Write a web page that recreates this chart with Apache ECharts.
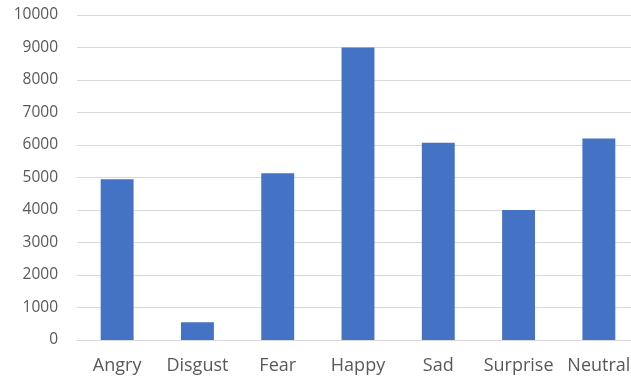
<!DOCTYPE html>
<html>
<head>
<meta charset="utf-8">
<script src="https://cdn.jsdelivr.net/npm/echarts@6/dist/echarts.min.js"></script>
<style>
  html, body { margin: 0; padding: 0; background: #fff; overflow: hidden; }
  #chart { width: 639px; height: 381px; }
</style>
</head>
<body>
<div id="chart"></div>
<script>
const categories = ['Angry', 'Disgust', 'Fear', 'Happy', 'Sad', 'Surprise', 'Neutral']
const counts = [4950, 550, 5130, 9000, 6070, 4000, 6200]
const yTicks = [0, 1000, 2000, 3000, 4000, 5000, 6000, 7000, 8000, 9000, 10000]

// the plot runs a little past the right edge of the window, as in the source image
const chart = echarts.init(document.getElementById('chart'))
chart.setOption({
  backgroundColor: '#ffffff',
  animation: false,
  grid: {
    top: 15,
    left: 77,
    right: 0,
    bottom: 41
  },
  xAxis: {
    type: 'category',
    data: categories,
    axisLine: {
      lineStyle: { color: '#d9d9d9', width: 1 }
    },
    axisTick: { show: false },
    axisLabel: {
      interval: 0,
      margin: 17,
      color: '#595959',
      fontFamily: 'Open Sans',
      fontSize: 18
    }
  },
  yAxis: {
    type: 'value',
    min: yTicks[0],
    max: yTicks[yTicks.length - 1],
    interval: 1000,
    axisLine: { show: false },
    axisTick: { show: false },
    axisLabel: {
      margin: 19,
      color: '#595959',
      fontFamily: 'Open Sans',
      fontSize: 15.5,
      formatter: v => String(v)
    },
    splitLine: {
      lineStyle: { color: '#d9d9d9', width: 1 }
    }
  },
  series: [{
    type: 'bar',
    data: counts,
    barWidth: '41%',
    itemStyle: { color: '#4472c4' }
  }]
})
</script>
</body>
</html>
